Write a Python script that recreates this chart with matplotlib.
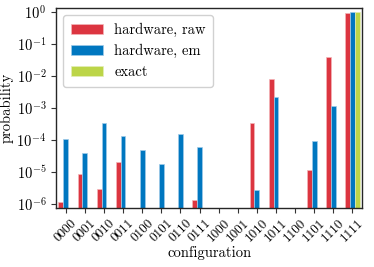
import numpy as np
import matplotlib
matplotlib.use('Agg')
import matplotlib.pyplot as plt

plt.rcParams['font.family'] = 'serif'
plt.rcParams['font.serif'] = ['cmr10']
plt.rcParams['mathtext.fontset'] = 'cm'
plt.rcParams['axes.formatter.use_mathtext'] = True
plt.rcParams['axes.unicode_minus'] = True

configs = ['0000', '0001', '0010', '0011', '0100', '0101', '0110', '0111',
           '1000', '1001', '1010', '1011', '1100', '1101', '1110', '1111']
hw_raw = [1.2e-6, 8.5e-6, 2.9e-6, 2.1e-5, 0, 0, 0, 1.4e-6,
          0, 0, 3.5e-4, 8.1e-3, 0, 1.15e-5, 4.0e-2, 0.95]
hw_em = [1.05e-4, 4.0e-5, 3.5e-4, 1.33e-4, 4.8e-5, 1.8e-5, 1.58e-4, 6.0e-5,
         0, 0, 2.7e-6, 2.3e-3, 0, 9.3e-5, 1.15e-3, 0.98]
exact = [0] * 15 + [1.0]

fs = 10.5
fig, ax = plt.subplots(figsize=(3.74, 2.67), dpi=100)
x = np.arange(len(configs))
w = 0.25
ax.bar(x - w, hw_raw, w, color='#dc3540', edgecolor='#f3b5b8', linewidth=0.5, label='hardware, raw')
ax.bar(x, hw_em, w, color='#0077c0', edgecolor='#9fcbe8', linewidth=0.5, label='hardware, em')
ax.bar(x + w, exact, w, color='#bcd548', edgecolor='#e3eeb8', linewidth=0.5, label='exact')

ax.set_yscale('log')
ax.set_ylim(7.5e-7, 1.33)
ax.set_xlim(-0.5, 15.5)
ax.set_xticks(x)
ax.set_xticklabels(configs, rotation=45, ha='center', fontsize=9.5)
ax.minorticks_off()
ax.set_yticks([1e-6, 1e-5, 1e-4, 1e-3, 1e-2, 1e-1, 1])
ax.tick_params(axis='y', labelsize=fs)
ax.tick_params(length=3.5, color='#333333')
ax.tick_params(axis='x', pad=3)
for s in ax.spines.values():
    s.set_color('#262626')
    s.set_linewidth(1.0)
ax.set_xlabel('configuration', fontsize=fs, labelpad=1)
ax.set_ylabel('probability', fontsize=fs, labelpad=2)
ax.legend(loc='upper left', fontsize=fs, framealpha=0.9, edgecolor='#cccccc',
          handlelength=2.2, borderpad=0.5)

fig.subplots_adjust(left=0.15, right=0.968, top=0.97, bottom=0.22)
fig.savefig('out.png', dpi=100)
